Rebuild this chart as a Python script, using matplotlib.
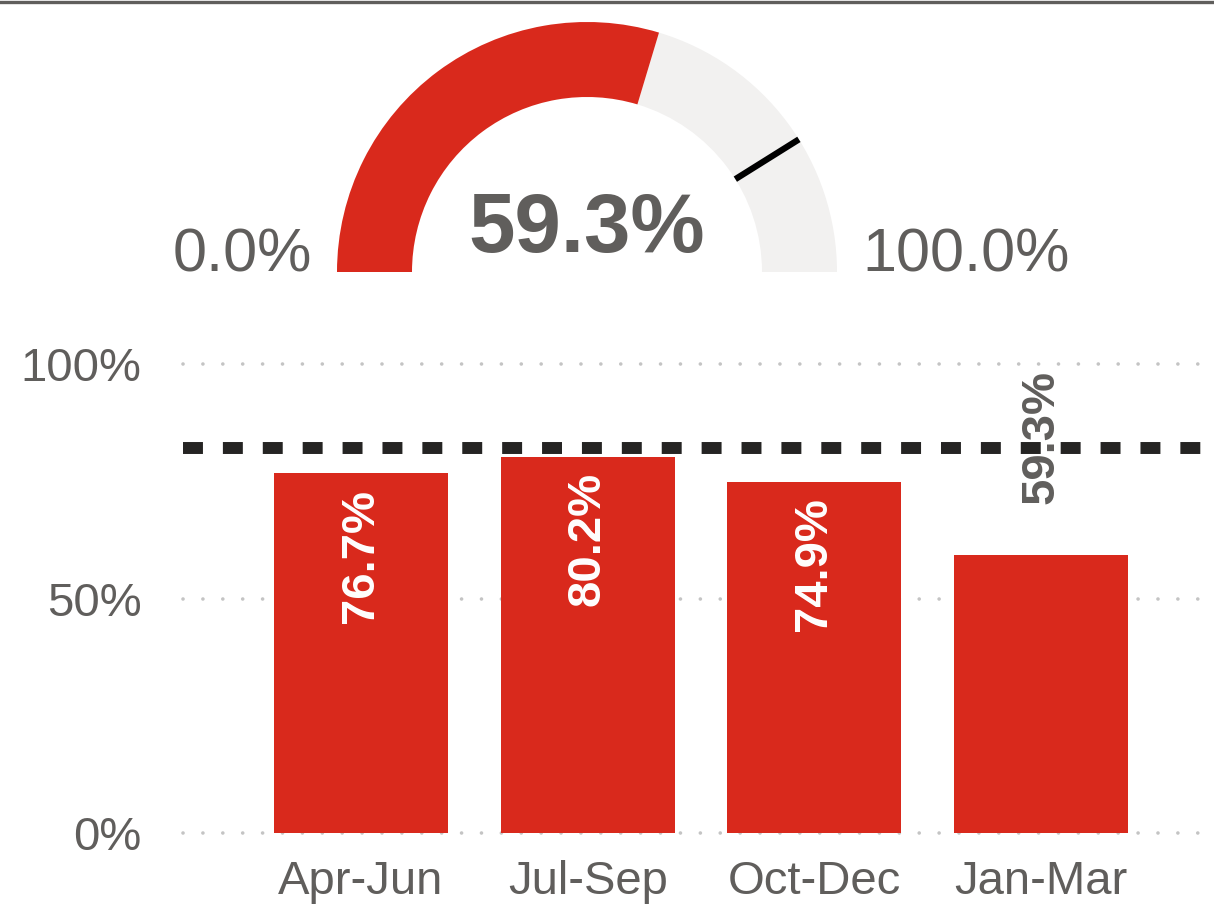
import matplotlib
matplotlib.use("Agg")
import matplotlib.pyplot as plt
from matplotlib.patches import Wedge
from matplotlib.lines import Line2D
import numpy as np

plt.rcParams['font.family'] = ['Liberation Sans', 'DejaVu Sans']

# data
quarters = ["Apr-Jun", "Jul-Sep", "Oct-Dec", "Jan-Mar"]
values = [76.7, 80.2, 74.9, 59.3]
target = 82.2
gauge_value = 59.3
gauge_min = 0.0
gauge_max = 100.0
yticks = [0, 50, 100]
ytick_labels = ["0%", "50%", "100%"]

RED = "#D9291C"
TRACK = "#F2F1F0"
GREY = "#605E5C"
BLACK = "#252423"

W, H = 1214, 907
fig = plt.figure(figsize=(W / 100, H / 100), dpi=100)

# top border
fig.add_artist(Line2D([0, 1], [1 - 1.5 / H, 1 - 1.5 / H], color=GREY, lw=2.4,
                      transform=fig.transFigure))

# ---- gauge ----
R = 250  # px per radius unit
cx, cy = 587, 272
gx0, gx1, gy0, gy1 = -2.2, 2.2, -0.1, 1.05
gax = fig.add_axes([(cx + gx0 * R) / W, (H - (cy - gy0 * R)) / H,
                    (gx1 - gx0) * R / W, (gy1 - gy0) * R / H])
gax.set_xlim(gx0, gx1)
gax.set_ylim(gy0, gy1)
gax.axis("off")

frac = (gauge_value - gauge_min) / (gauge_max - gauge_min)
ang = 180 - 180 * frac
gax.add_patch(Wedge((0, 0), 1, 0, ang, width=0.3, color=TRACK, lw=0))
gax.add_patch(Wedge((0, 0), 1, ang, 180, width=0.3, color=RED, lw=0))

tang = np.radians(180 - 180 * (target - gauge_min) / (gauge_max - gauge_min))
gax.plot([0.7 * np.cos(tang), 1.0 * np.cos(tang)],
         [0.7 * np.sin(tang), 1.0 * np.sin(tang)], color="black", lw=4.5,
         solid_capstyle="butt")

gax.text(0, 0.08, f"{gauge_value:.1f}%", ha="center", va="baseline",
         fontsize=60, fontweight="bold", color=GREY)
gax.text(-1.1, 0, f"{gauge_min:.1f}%", ha="right", va="baseline",
         fontsize=44, color=GREY)
gax.text(1.1, 0, f"{gauge_max:.1f}%", ha="left", va="baseline",
         fontsize=44, color=GREY)

# ---- bar chart ----
px_per_pct = (832.7 - 364.3) / 100
y_top = 105
ax_left, ax_right, ax_bottom = 183, 1214, 832.7
ax = fig.add_axes([ax_left / W, (H - ax_bottom) / H,
                   (ax_right - ax_left) / W, y_top * px_per_pct / H])
spacing = 226.7
ax.set_xlim(-(361 - ax_left) / spacing, (ax_right - 361) / spacing)
ax.set_ylim(0, y_top)

x = np.arange(len(quarters))
ax.bar(x, values, width=174 / spacing, color=RED, zorder=2)

for t in yticks:
    ax.axhline(t, color="#C4C4C4", lw=2.6, linestyle=(0, (0.01, 5.5)),
               dash_capstyle="round", zorder=1, clip_on=False)

ax.axhline(target, color=BLACK, lw=8.6, linestyle=(0, (1.67, 1.67)),
           dash_capstyle="butt", zorder=3)

for xi, v in zip(x, values):
    if v >= 70:
        ax.annotate(f"{v:.1f}%", (xi, v), xytext=(0, -11), textcoords="offset points",
                    rotation=90, ha="center", va="top", fontsize=34,
                    fontweight="bold", color="white", zorder=4)
    else:
        ax.annotate(f"{v:.1f}%", (xi, v), xytext=(0, 37), textcoords="offset points",
                    rotation=90, ha="center", va="bottom", fontsize=34,
                    fontweight="bold", color=GREY, zorder=4)

ax.set_xticks(x)
ax.set_xticklabels(quarters, fontsize=34, color=GREY)
ax.set_yticks(yticks)
ax.set_yticklabels(ytick_labels, fontsize=34, color=GREY)
ax.tick_params(axis="both", length=0)
ax.tick_params(axis="y", pad=30)
ax.tick_params(axis="x", pad=20)
for s in ax.spines.values():
    s.set_visible(False)

fig.savefig("out.png", dpi=100)
